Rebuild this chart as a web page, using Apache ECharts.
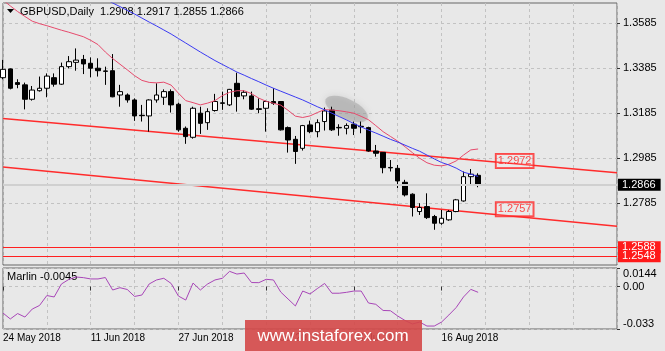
<!DOCTYPE html>
<html>
<head>
<meta charset="utf-8">
<script src="https://cdn.jsdelivr.net/npm/echarts@6/dist/echarts.min.js"></script>
<style>
  html, body { margin: 0; padding: 0; background: #e8e8e8; }
  #main { width: 665px; height: 351px; }
</style>
</head>
<body>
<div id="main"></div>
<script>
var chart = echarts.init(document.getElementById('main'));

var symbolName = 'GBPUSD,Daily';
var dateLabels = ['24 May 2018', '11 Jun 2018', '27 Jun 2018', '13 Jul 2018', '31 Jul 2018', '16 Aug 2018'];
var labelStep = 12;   // one date label every 12 bars
var gridStep = 6;     // one vertical grid line every 6 bars
var barSlots = 85;    // bars that fit across the window (66 drawn + empty space)

// daily OHLC, 24 May 2018 .. 23 Aug 2018
var open = [1.3342, 1.3381, 1.3320, 1.3310, 1.3246, 1.3284, 1.3295, 1.3342, 1.3313, 1.3391,
    1.3410, 1.3423, 1.3406, 1.3384, 1.3372, 1.3373, 1.3265, 1.3265, 1.3243, 1.3175,
    1.3172, 1.3243, 1.3255, 1.3280, 1.3224, 1.3117, 1.3077, 1.3184, 1.3142, 1.3196,
    1.3230, 1.3221, 1.3317, 1.3261, 1.3261, 1.3204, 1.3206, 1.3236, 1.3236, 1.3120,
    1.3068, 1.3028, 1.3132, 1.3102, 1.3147, 1.3198, 1.3121, 1.3117, 1.3135, 1.3126,
    1.3120, 1.3016, 1.3010, 1.2943, 1.2939, 1.2877, 1.2824, 1.2747, 1.2769, 1.2725,
    1.2695, 1.2710, 1.2747, 1.2794, 1.2902, 1.2908];
var high = [1.3421, 1.3383, 1.3335, 1.3320, 1.3305, 1.3347, 1.3361, 1.3361, 1.3409, 1.3438,
    1.3472, 1.3443, 1.3432, 1.3428, 1.3391, 1.3447, 1.3310, 1.3272, 1.3250, 1.3221,
    1.3246, 1.3317, 1.3290, 1.3290, 1.3231, 1.3125, 1.3213, 1.3213, 1.3206, 1.3270,
    1.3280, 1.3292, 1.3364, 1.3287, 1.3280, 1.3250, 1.3240, 1.3295, 1.3236, 1.3125,
    1.3083, 1.3132, 1.3151, 1.3157, 1.3209, 1.3213, 1.3135, 1.3139, 1.3147, 1.3147,
    1.3124, 1.3043, 1.3010, 1.2976, 1.2954, 1.2888, 1.2828, 1.2784, 1.2828, 1.2732,
    1.2754, 1.2754, 1.2803, 1.2925, 1.2936, 1.2917];
var low = [1.3335, 1.3290, 1.3295, 1.3201, 1.3240, 1.3280, 1.3255, 1.3302, 1.3310, 1.3383,
    1.3373, 1.3358, 1.3344, 1.3347, 1.3310, 1.3255, 1.3213, 1.3231, 1.3150, 1.3147,
    1.3102, 1.3231, 1.3221, 1.3187, 1.3102, 1.3048, 1.3071, 1.3092, 1.3110, 1.3191,
    1.3199, 1.3216, 1.3191, 1.3246, 1.3199, 1.3184, 1.3102, 1.3221, 1.3107, 1.3009,
    1.2959, 1.3018, 1.3095, 1.3077, 1.3107, 1.3105, 1.3084, 1.3090, 1.3087, 1.3095,
    1.3013, 1.2991, 1.2917, 1.2925, 1.2851, 1.2814, 1.2725, 1.2732, 1.2714, 1.2666,
    1.2688, 1.2706, 1.2744, 1.2791, 1.2865, 1.2855];
var close = [1.3379, 1.3295, 1.3312, 1.3246, 1.3287, 1.3295, 1.3349, 1.3313, 1.3391, 1.3413,
    1.3420, 1.3403, 1.3384, 1.3373, 1.3370, 1.3257, 1.3280, 1.3243, 1.3172, 1.3173,
    1.3243, 1.3265, 1.3280, 1.3221, 1.3110, 1.3080, 1.3206, 1.3139, 1.3191, 1.3236,
    1.3228, 1.3290, 1.3258, 1.3277, 1.3202, 1.3201, 1.3236, 1.3228, 1.3110, 1.3065,
    1.3014, 1.3129, 1.3102, 1.3142, 1.3194, 1.3110, 1.3119, 1.3129, 1.3117, 1.3124,
    1.3016, 1.3006, 1.2942, 1.2941, 1.2883, 1.2821, 1.2765, 1.2765, 1.2720, 1.2695,
    1.2717, 1.2747, 1.2799, 1.2902, 1.2913, 1.2866];

// moving averages as drawn on the chart
var maRed = [1.3687, 1.3661, 1.3636, 1.3614, 1.3593, 1.3582, 1.3573, 1.3563, 1.3553, 1.3544,
    1.3534, 1.3524, 1.3508, 1.3489, 1.3456, 1.3427, 1.3402, 1.3377, 1.3351, 1.3330,
    1.3321, 1.3319, 1.3322, 1.3309, 1.3273, 1.3240, 1.3231, 1.3221, 1.3229, 1.3240,
    1.3262, 1.3277, 1.3284, 1.3284, 1.3271, 1.3251, 1.3237, 1.3228, 1.3220, 1.3197,
    1.3171, 1.3165, 1.3172, 1.3187, 1.3200, 1.3198, 1.3195, 1.3190, 1.3184, 1.3170,
    1.3155, 1.3129, 1.3102, 1.3081, 1.3060, 1.3035, 1.3009, 1.2984, 1.2964, 1.2953,
    1.2950, 1.2957, 1.2972, 1.2998, 1.3021, 1.3025];
var maBlue = [null, null, null, null, null, null, null, null, null, null,
    null, null, 1.3723, 1.3707, 1.3691, 1.3674, 1.3658, 1.3641, 1.3625, 1.3607,
    1.3589, 1.3572, 1.3554, 1.3536, 1.3516, 1.3496, 1.3476, 1.3456, 1.3437, 1.3418,
    1.3401, 1.3384, 1.3367, 1.3353, 1.3338, 1.3324, 1.3309, 1.3295, 1.3282, 1.3269,
    1.3256, 1.3243, 1.3228, 1.3213, 1.3199, 1.3184, 1.3169, 1.3154, 1.3138, 1.3123,
    1.3109, 1.3096, 1.3082, 1.3068, 1.3056, 1.3042, 1.3028, 1.3015, 1.2998, 1.2981,
    1.2965, 1.2954, 1.2940, 1.2922, 1.2913, 1.2903];

// Marlin oscillator
var marlin = [-0.0206, -0.0252, -0.0210, -0.0237, -0.0175, -0.0147, -0.0070, -0.0081, 0.0020, 0.0055,
    0.0074, 0.0069, 0.0059, 0.0059, 0.0070, -0.0027, -0.0009, -0.0023, -0.0077, -0.0066,
    0.0020, 0.0051, 0.0064, 0.0024, -0.0074, -0.0105, 0.0027, -0.0027, 0.0020, 0.0051,
    0.0064, 0.0118, 0.0097, 0.0105, 0.0031, 0.0030, 0.0056, 0.0051, -0.0043, -0.0097,
    -0.0151, -0.0035, -0.0058, -0.0016, 0.0024, -0.0052, -0.0052, -0.0045, -0.0035, -0.0035,
    -0.0128, -0.0138, -0.0186, -0.0188, -0.0229, -0.0264, -0.0291, -0.0276, -0.0307, -0.0307,
    -0.0276, -0.0221, -0.0163, -0.0081, -0.0022, -0.0045];

var priceMin = 1.25094, priceMax = 1.36739;
var priceTicks = [1.2785, 1.2985, 1.3185, 1.3385, 1.3585];
var marlinMin = -0.033, marlinMax = 0.0144;
var marlinTicks = [-0.033, 0, 0.0144];

// analyst drawings
var upperChannel = [[0, 1.3160], [84, 1.2919]];
var lowerChannel = [[0, 1.2945], [84, 1.2682]];
var channelTags = [[70, 1.2972], [70, 1.2757]];
var supportLevels = [1.2588, 1.2548];
var cloudMark = [[47, 1.3203]];

var last = close.length - 1;
var bars = [];
for (var i = 0; i < barSlots; i++) bars.push(String(i));

var candles = open.map(function (o, i) { return [o, close[i], low[i], high[i]]; });

var font = 'Liberation Sans';
var dashed = { show: true, lineStyle: { color: '#c2c2c2', type: [3, 3], width: 1 } };
var isDateTick = function (i) { return i % labelStep === 0 && i / labelStep < dateLabels.length; };
var isGridTick = function (i) { return i % gridStep === 0; };

var titleText = symbolName + '  ' + [open[last], high[last], low[last], close[last]].map(function (v) { return v.toFixed(4); }).join(' ');

option = {
    backgroundColor: '#e8e8e8',
    animation: false,
    textStyle: { fontFamily: font },
    grid: [
        { left: 3, top: 3, width: 614, height: 262, show: true, borderColor: '#666', borderWidth: 1 },
        { left: 3, top: 268, width: 614, height: 61, show: true, borderColor: '#666', borderWidth: 1 }
    ],
    xAxis: [{
        type: 'category', gridIndex: 0, data: bars, boundaryGap: false,
        axisLine: { show: false }, axisTick: { show: false }, axisLabel: { show: false },
        splitLine: { show: true, interval: isGridTick, lineStyle: dashed.lineStyle }
    }, {
        type: 'category', gridIndex: 1, data: bars, boundaryGap: false,
        axisLine: { show: false },
        axisTick: { show: true, interval: isDateTick, length: 4, lineStyle: { color: '#333' } },
        axisLabel: {
            show: true, interval: isDateTick, align: 'left', margin: 4,
            fontSize: 10, color: '#000', fontFamily: font,
            formatter: function (v, i) { return dateLabels[i / labelStep] || ''; }
        },
        splitLine: { show: true, interval: isGridTick, lineStyle: dashed.lineStyle }
    }],
    yAxis: [{
        type: 'value', gridIndex: 0, position: 'right', min: priceMin, max: priceMax, scale: true,
        axisLine: { show: false },
        axisTick: { show: true, customValues: priceTicks, length: 3, lineStyle: { color: '#333' } },
        axisLabel: {
            customValues: priceTicks, margin: 6, fontSize: 11, color: '#000', fontFamily: font,
            formatter: function (v) { return v.toFixed(4); }
        },
        splitLine: dashed
    }, {
        type: 'value', gridIndex: 1, position: 'right', min: marlinMin, max: marlinMax,
        axisLine: { show: false },
        axisTick: { show: true, customValues: marlinTicks, length: 3, lineStyle: { color: '#333' } },
        axisLabel: {
            customValues: marlinTicks, margin: 6, fontSize: 11, color: '#000', fontFamily: font,
            verticalAlignMinLabel: 'bottom', verticalAlignMaxLabel: 'top',
            formatter: function (v) { return v === 0 ? '0.00' : String(v); }
        },
        splitLine: dashed
    }],
    series: [{
        name: 'cloud',
        type: 'scatter', xAxisIndex: 0, yAxisIndex: 0, data: cloudMark,
        symbol: 'circle', symbolSize: [46, 20], symbolRotate: -25, z: 1, silent: true,
        itemStyle: { color: 'rgba(150,150,150,0.55)', shadowBlur: 6, shadowColor: 'rgba(150,150,150,0.6)' }
    }, {
        name: 'upper channel',
        type: 'line', xAxisIndex: 0, yAxisIndex: 0, data: upperChannel, symbol: 'none', z: 2,
        lineStyle: { color: '#ff2b2b', width: 1.5 }
    }, {
        name: 'lower channel',
        type: 'line', xAxisIndex: 0, yAxisIndex: 0, data: lowerChannel, symbol: 'none', z: 2,
        lineStyle: { color: '#ff2b2b', width: 1.5 }
    }, {
        name: 'GBPUSD',
        type: 'candlestick', xAxisIndex: 0, yAxisIndex: 0, data: candles, barWidth: 5, z: 3,
        itemStyle: { color: '#ffffff', color0: '#000000', borderColor: '#000000', borderColor0: '#000000', borderWidth: 1 },
        markLine: {
            symbol: 'none', silent: true, animation: false, precision: 4,
            label: {
                position: 'end', distance: 1, fontSize: 11, fontFamily: font, color: '#fff',
                padding: [1, 5, 0, 4],
                formatter: function (p) { return Number(p.value).toFixed(4); }
            },
            data: [
                { yAxis: close[last], lineStyle: { color: '#d0d0d0', width: 2, type: 'solid' }, label: { backgroundColor: '#000' } }
            ].concat(supportLevels.map(function (v) {
                return { yAxis: v, lineStyle: { color: '#ff2020', width: 1, type: 'solid' }, label: { backgroundColor: '#ff1a1a' } };
            }))
        }
    }, {
        name: 'MA red',
        type: 'line', xAxisIndex: 0, yAxisIndex: 0, data: maRed, symbol: 'none', z: 4,
        lineStyle: { color: '#e64a6c', width: 1 }
    }, {
        name: 'MA blue',
        type: 'line', xAxisIndex: 0, yAxisIndex: 0, data: maBlue, symbol: 'none', z: 4,
        lineStyle: { color: '#3a3af2', width: 1 }
    }, {
        name: 'channel tags',
        type: 'scatter', xAxisIndex: 0, yAxisIndex: 0, data: channelTags, symbolSize: 0, z: 5,
        label: {
            show: true, position: 'inside', fontSize: 11, fontFamily: font, color: '#ff2020',
            borderColor: '#ff2020', borderWidth: 1, padding: [2, 2, 1, 2],
            backgroundColor: 'rgba(255,255,255,0.15)',
            formatter: function (p) { return p.value[1].toFixed(4); }
        }
    }, {
        name: 'Marlin',
        type: 'line', xAxisIndex: 1, yAxisIndex: 1, data: marlin, symbol: 'none',
        lineStyle: { color: '#a846b8', width: 1 }
    }],
    graphic: [
        { type: 'polygon', shape: { points: [[7, 9], [14, 9], [10.5, 13]] }, style: { fill: '#000' } },
        { type: 'text', left: 20, top: 6, style: { text: titleText, font: '11px "Liberation Sans"', fill: '#000' } },
        { type: 'text', left: 7, top: 271, style: { text: 'Marlin ' + marlin[last].toFixed(4), font: '11px "Liberation Sans"', fill: '#000' } },
        { type: 'rect', shape: { x: 245, y: 320, width: 177, height: 31 }, style: { fill: 'rgba(212,72,72,0.9)' }, z: 100 },
        { type: 'text', x: 333, y: 336, z: 101, style: { text: 'www.instaforex.com', font: '17px "Liberation Sans"', fill: '#fff', align: 'center', verticalAlign: 'middle' } }
    ]
};

chart.setOption(option);
</script>
</body>
</html>
